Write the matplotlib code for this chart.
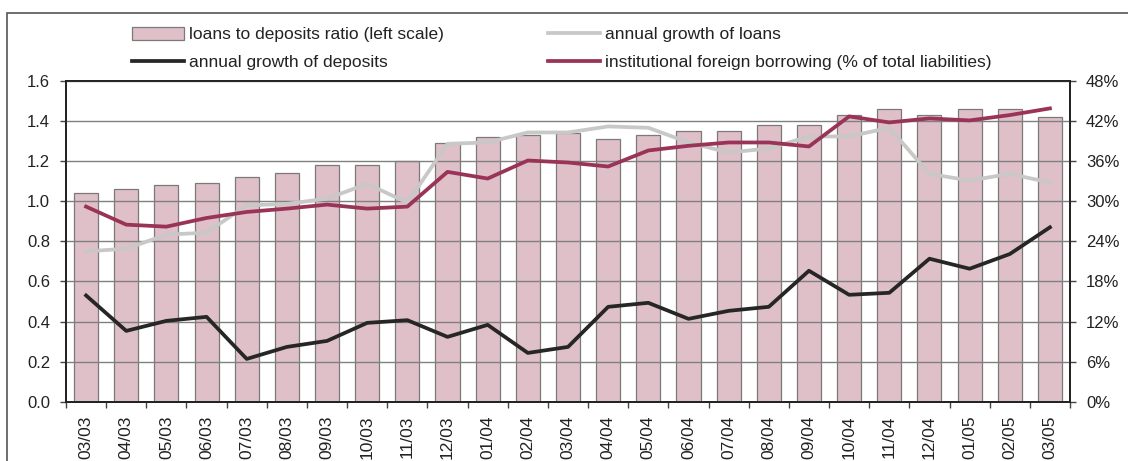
import numpy as np
import matplotlib
matplotlib.use('Agg')
import matplotlib.pyplot as plt
from matplotlib.patches import Rectangle

plt.rcParams['font.family'] = ['Liberation Sans', 'DejaVu Sans']

# data
months = ['03/03', '04/03', '05/03', '06/03', '07/03', '08/03', '09/03', '10/03', '11/03',
          '12/03', '01/04', '02/04', '03/04', '04/04', '05/04', '06/04', '07/04', '08/04',
          '09/04', '10/04', '11/04', '12/04', '01/05', '02/05', '03/05']
loan_dep_ratio = [1.04, 1.06, 1.08, 1.09, 1.12, 1.14, 1.18, 1.18, 1.20, 1.29, 1.32, 1.33, 1.34,
                  1.31, 1.33, 1.35, 1.35, 1.38, 1.38, 1.43, 1.46, 1.43, 1.46, 1.46, 1.42]
loans_growth = [22.5, 22.9, 25.0, 25.3, 29.4, 29.6, 30.4, 32.6, 29.8, 38.6, 38.8, 40.3, 40.3,
                41.2, 41.0, 38.8, 37.3, 37.9, 39.7, 39.7, 41.0, 34.1, 33.1, 34.1, 32.8]
deposits_growth = [15.9, 10.6, 12.1, 12.7, 6.4, 8.2, 9.1, 11.8, 12.2, 9.7, 11.5, 7.3, 8.2,
                   14.2, 14.8, 12.4, 13.6, 14.2, 19.6, 16.0, 16.3, 21.4, 19.9, 22.1, 26.1]
foreign_borrowing = [29.2, 26.5, 26.2, 27.5, 28.4, 28.9, 29.5, 28.9, 29.2, 34.4, 33.4, 36.1, 35.8,
                     35.2, 37.6, 38.3, 38.8, 38.8, 38.2, 42.7, 41.8, 42.4, 42.1, 42.9, 43.9]

txt = '#222222'
x = np.arange(len(months))

fig = plt.figure(figsize=(11.28, 4.61), dpi=100)
ax = fig.add_axes([66/1128, 1 - 401.7/461, (1070-66)/1128, (401.7-81)/461])

bars = ax.bar(x, loan_dep_ratio, width=0.6, color='#dfbfc8', edgecolor='#7a7a7a',
              linewidth=0.9, label='loans to deposits ratio (left scale)', zorder=1)
ax.set_ylim(0, 1.6)
ax.set_yticks(np.arange(0, 1.61, 0.2))
ax.set_yticklabels(['%.1f' % v for v in np.arange(0, 1.61, 0.2)])
ax.set_xlim(-0.5, len(months) - 0.5)
ax.set_xticks(x)
ax.set_xticklabels(months, rotation=90)
ax.set_xticks(np.arange(-0.5, len(months)), minor=True)
ax.tick_params(axis='x', which='major', length=0, pad=10, labelsize=12.5, labelcolor=txt)
ax.tick_params(axis='x', which='minor', length=4.5, width=1, color='#444444', direction='out')
ax.tick_params(axis='y', length=4.5, width=1, color='#444444', pad=7, labelsize=12, labelcolor=txt)
ax.set_axisbelow(False)
ax.yaxis.grid(True, color='#808080', linewidth=1)
for s in ax.spines.values():
    s.set_color('#222222')
    s.set_linewidth(1.3)

ax2 = ax.twinx()
ax2.set_ylim(0, 48)
ax2.set_yticks(np.arange(0, 49, 6))
ax2.set_yticklabels(['%d%%' % v for v in np.arange(0, 49, 6)])
ax2.tick_params(axis='y', length=4.5, width=1, color='#444444', pad=7, labelsize=12, labelcolor=txt)
for s in ax2.spines.values():
    s.set_color('#222222')
    s.set_linewidth(1.3)

l1, = ax2.plot(x, loans_growth, color='#c8c8c8', linewidth=2.7, label='annual growth of loans')
l2, = ax2.plot(x, deposits_growth, color='#262626', linewidth=2.7, label='annual growth of deposits')
l3, = ax2.plot(x, foreign_borrowing, color='#993358', linewidth=2.7,
               label='institutional foreign borrowing (% of total liabilities)')

fig.legend([bars, l2, l1, l3],
           [bars.get_label(), l2.get_label(), l1.get_label(), l3.get_label()],
           ncol=2, loc='upper left', bbox_to_anchor=(123/1128, 1 - 18/461),
           frameon=False, borderpad=0, fontsize=12.5, handlelength=3.0, handleheight=0.8,
           handletextpad=0.3, columnspacing=6.0, labelspacing=0.7, labelcolor=txt)

# outer frame
fig.patches.append(Rectangle((7/1128, -0.1), 1.2, 1 - 13/461 + 0.1, transform=fig.transFigure,
                             fill=False, edgecolor='#555555', linewidth=1.2))

fig.savefig('out.png', dpi=100)
